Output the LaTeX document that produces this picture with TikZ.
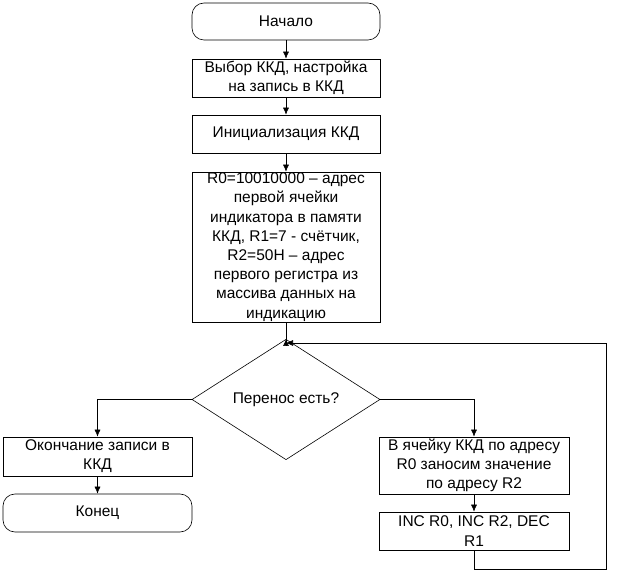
\documentclass[tikz,border=0pt]{standalone}
\usepackage{fontspec}
\setmainfont{Liberation Sans}
\usetikzlibrary{shapes.geometric,arrows.meta}
\begin{document}
\begin{tikzpicture}[x=1pt,y=-1pt,
  every node/.style={font=\fontsize{15.5}{19.2}\selectfont,align=center,inner sep=0pt,line width=0.6pt},
  box/.style={draw,rectangle},
  term/.style={draw,rectangle,rounded corners=12pt},
  dec/.style={draw,diamond},
  link/.style={line width=0.6pt,-{Latex[length=7pt,width=6pt]}},
  line/.style={line width=0.6pt}]
\useasboundingbox (0,0) rectangle (622,585);
\node[term,minimum width=188pt,minimum height=37pt] (start) at (286,21.5) {Начало};
\node[box,minimum width=188pt,minimum height=38pt] (sel) at (286,78) {Выбор ККД, настройка\\на запись в ККД};
\node[box,minimum width=188pt,minimum height=38pt] (init) at (286,134) {Инициализация ККД};
\node[box,minimum width=188pt,minimum height=150pt] (regs) at (286,247) {R0=10010000 – адрес\\первой ячейки\\индикатора в памяти\\ККД, R1=7 - счётчик,\\R2=50H – адрес\\первого регистра из\\массива данных на\\индикацию};
\coordinate (J) at (286,343);
\node[dec,minimum width=188pt,minimum height=74pt] (cond) at (286,399.5) {Перенос есть?};
\node[box,minimum width=189pt,minimum height=39pt] (fin) at (97.5,456.5) {Окончание записи в\\ККД};
\node[term,minimum width=189pt,minimum height=38pt] (end) at (97.5,513) {Конец};
\node[box,minimum width=190pt,minimum height=57pt] (wr) at (474,465.5) {В ячейку ККД по адресу\\R0 заносим значение\\по адресу R2};
\node[box,minimum width=190pt,minimum height=38pt] (inc) at (474,531) {INC R0, INC R2, DEC\\R1};
\coordinate (L1) at (474,569);
\coordinate (L2) at (606,569);
\coordinate (L3) at (606,343);
\draw[link] (start) -- (sel);
\draw[link] (sel) -- (init);
\draw[link] (init) -- (regs);
\draw[line] (regs) -- (J);
\draw[link] (J) -- (cond.north);
\draw[link] (cond.west) -| (fin.north);
\draw[link] (fin) -- (end);
\draw[link] (cond.east) -| (wr.north);
\draw[link] (wr) -- (inc);
\draw[line] (inc.south) -- (L1) -- (L2) -- (L3);
\draw[link] (L3) -- (J);
\end{tikzpicture}
\end{document}
